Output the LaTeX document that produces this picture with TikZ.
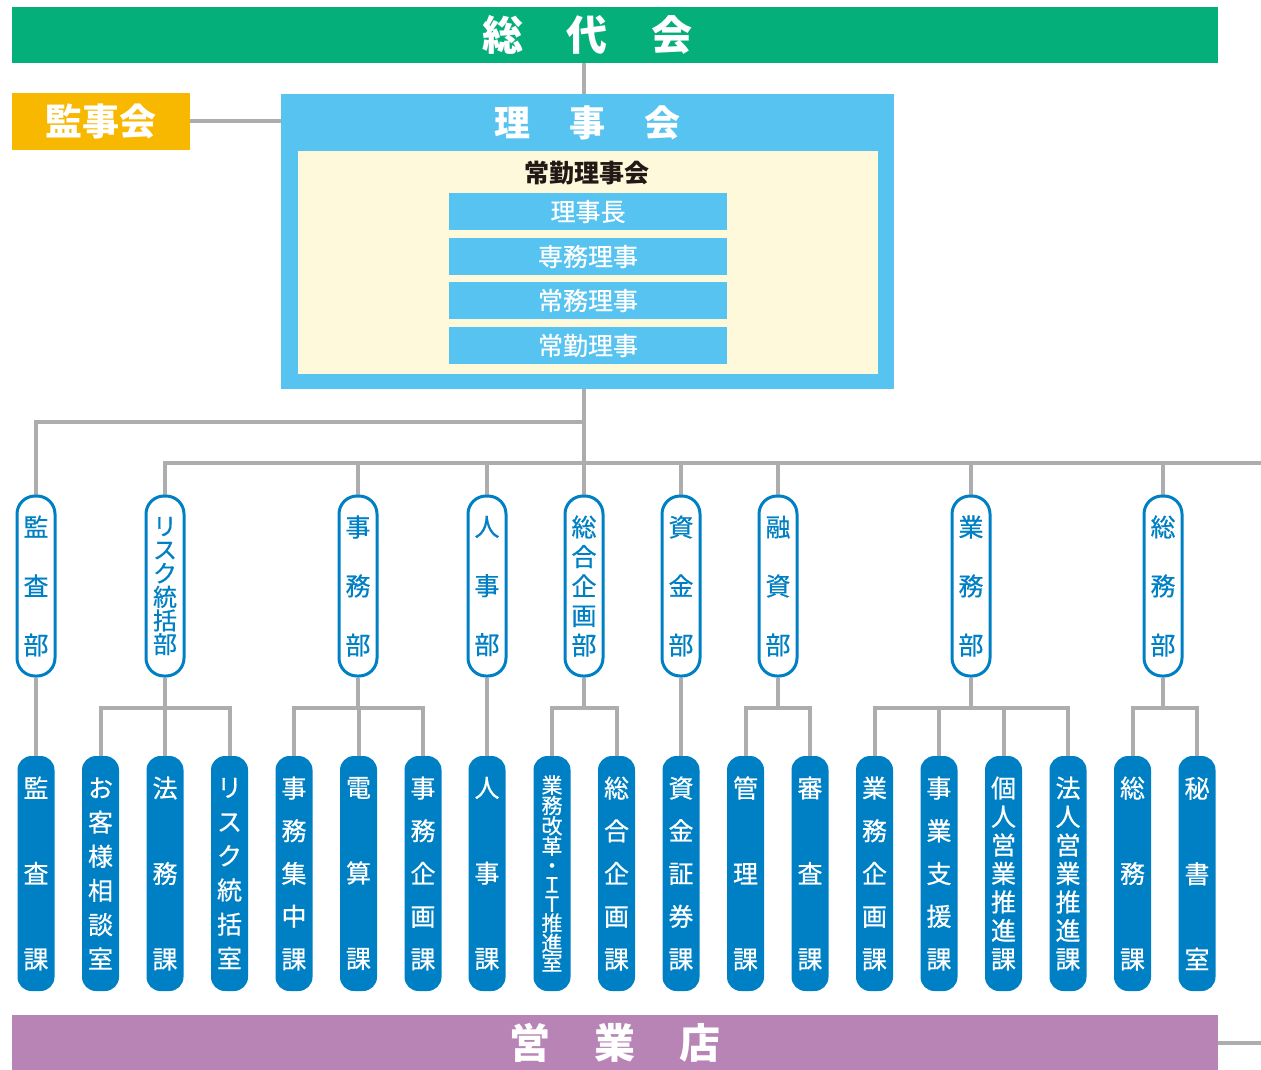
\documentclass[tikz,border=0pt]{standalone}
\usepackage{fontspec}
\newfontfamily\jp{Noto Sans CJK JP}
\newfontfamily\jpm[FakeBold=0.6]{Noto Sans CJK JP}
\usetikzlibrary{backgrounds}
\definecolor{verde}{HTML}{05AF7A}
\definecolor{naranja}{HTML}{F8B800}
\definecolor{celeste}{HTML}{56C3F0}
\definecolor{crema}{HTML}{FEF9DB}
\definecolor{azul}{HTML}{0080C4}
\definecolor{morado}{HTML}{B884B6}
\definecolor{gris}{HTML}{ADADAD}
\definecolor{tinta}{HTML}{231815}
\tikzset{
    conn/.style={draw=gris, line width=4pt},
    barra/.style={minimum width=1206pt, minimum height=56pt, inner sep=0pt},
    titulo/.style={text=white, font={\jp\bfseries\fontsize{#1}{#1}\selectfont}},
    cargo/.style={fill=celeste, minimum width=278pt, minimum height=37pt, inner sep=0pt,
        text=white, font={\jpm\fontsize{25}{25}\selectfont}},
    bu/.style={draw=azul, line width=3pt, fill=white, rounded corners=18pt,
        minimum width=38pt, minimum height=180pt, inner sep=0pt, text=azul,
        align=center, font={\jpm\fontsize{25}{#1}\selectfont}},
    ka/.style={fill=azul, rounded corners=14pt, minimum width=37pt, minimum height=235pt,
        inner sep=0pt, text=white, align=center, font={\jpm\fontsize{25}{#1}\selectfont}},
}
\begin{document}
\begin{tikzpicture}[x=1pt, y=-1pt]
    \useasboundingbox (0,0) rectangle (1261,1070);

    % Barras de arriba y abajo
    \node[barra, fill=verde] (sodai) at (615,35) {};
    \node[titulo=41] (sodaitxt) at (587.5,35) {総\hspace{44pt}代\hspace{44pt}会};
    \node[barra, fill=morado, minimum height=55pt, titulo=41] (eigyo) at (615,1042.5)
        {営\hspace{44pt}業\hspace{44pt}店};

    % Monitoring
    \node[fill=naranja, minimum width=178pt, minimum height=57pt, inner sep=0pt, titulo=37]
        (kanjikai) at (101,121.5) {監事会};

    % Consejo
    \node[fill=celeste, minimum width=613pt, minimum height=295pt, inner sep=0pt] (rijikai) at (587.5,241.5) {};
    \node[titulo=36] (rijikaitxt) at (587.5,123) {理\hspace{39pt}事\hspace{39pt}会};
    \node[fill=crema, minimum width=580pt, minimum height=223pt, inner sep=0pt] (jokin) at (588,262.5) {};
    \node[text=tinta, font={\jp\bfseries\fontsize{25}{25}\selectfont}] (jokintxt) at (587,173) {常勤理事会};
    \node[cargo] (rijicho) at (588,211.5) {理事長};
    \node[cargo] (senmu) at (588,256.5) {専務理事};
    \node[cargo] (jomu) at (588,300.5) {常務理事};
    \node[cargo] (jokinriji) at (588,345.5) {常勤理事};

    % Departamentos
    \node[bu=59] (kansabu) at (36,586) {監\\査\\部};
    \node[bu=23.6, font={\jpm\fontsize{24}{23.6}\selectfont}] (risukubu) at (165,586) {リ\\ス\\ク\\統\\括\\部};
    \node[bu=59] (jimubu) at (358,586) {事\\務\\部};
    \node[bu=59] (jinjibu) at (487,586) {人\\事\\部};
    \node[bu=29.5] (sogobu) at (584,586) {総\\合\\企\\画\\部};
    \node[bu=59] (shikinbu) at (681,586) {資\\金\\部};
    \node[bu=59] (yushibu) at (778,586) {融\\資\\部};
    \node[bu=59] (gyomubu) at (971,586) {業\\務\\部};
    \node[bu=59] (somubu) at (1163,586) {総\\務\\部};

    % Secciones
    \node[ka=85.5] (kansaka) at (36,873.5) {監\\査\\課};
    \node[ka=34.2] (okyaku) at (100.5,873.5) {お\\客\\様\\相\\談\\室};
    \node[ka=85.5] (homu) at (165,873.5) {法\\務\\課};
    \node[ka=34.2] (risukushitsu) at (229.5,873.5) {リ\\ス\\ク\\統\\括\\室};
    \node[ka=42.75] (shuchu) at (294,873.5) {事\\務\\集\\中\\課};
    \node[ka=85.5] (densan) at (358.5,873.5) {電\\算\\課};
    \node[ka=42.75] (jimukikaku) at (423,873.5) {事\\務\\企\\画\\課};
    \node[ka=85.5] (jinjika) at (487,873.5) {人\\事\\課};
    \node[ka=19.2, font={\jpm\fontsize{21}{19.2}\selectfont}] (kaikaku) at (552,873.5)
        {業\\務\\改\\革\\・\\Ｉ\\Ｔ\\推\\進\\室};
    \node[ka=42.75] (sogokikaku) at (616.5,873.5) {総\\合\\企\\画\\課};
    \node[ka=42.75] (shoken) at (681,873.5) {資\\金\\証\\券\\課};
    \node[ka=85.5] (kanri) at (745.5,873.5) {管\\理\\課};
    \node[ka=85.5] (shinsa) at (810,873.5) {審\\査\\課};
    \node[ka=42.75] (gyomukikaku) at (874.5,873.5) {業\\務\\企\\画\\課};
    \node[ka=42.75] (shien) at (939,873.5) {事\\業\\支\\援\\課};
    \node[ka=28.5] (kojin) at (1003.5,873.5) {個\\人\\営\\業\\推\\進\\課};
    \node[ka=28.5] (hojin) at (1068,873.5) {法\\人\\営\\業\\推\\進\\課};
    \node[ka=85.5] (somuka) at (1132.5,873.5) {総\\務\\課};
    \node[ka=85.5] (hisho) at (1197,873.5) {秘\\書\\室};

    % Lineas
    \begin{scope}[on background layer]
        \coordinate (linea1) at (584,422);
        \coordinate (linea2) at (1261,463);
        \coordinate (linea3) at (0,708);
        \draw[conn] (sodai.south -| sogobu.north) -- (rijikai.north -| sogobu.north);
        \draw[conn] (kanjikai.east) -- (kanjikai.east -| rijikai.west);
        \draw[conn] (rijikai.south -| sogobu.north) -- (sogobu.north);
        \draw[conn] (linea1) -| (kansabu.north);
        \draw[conn] (risukubu.north) |- (linea2);
        \foreach \b in {jimubu,jinjibu,shikinbu,yushibu,gyomubu,somubu}
            \draw[conn] (\b.north) -- (\b.north |- linea2);
        \draw[conn] (eigyo.east) -- (eigyo.east -| linea2);
        \foreach \b/\k in {kansabu/kansaka, risukubu/okyaku, risukubu/homu, risukubu/risukushitsu,
                jimubu/shuchu, jimubu/densan, jimubu/jimukikaku, jinjibu/jinjika,
                sogobu/kaikaku, sogobu/sogokikaku, shikinbu/shoken, yushibu/kanri, yushibu/shinsa,
                gyomubu/gyomukikaku, gyomubu/shien, gyomubu/kojin, gyomubu/hojin,
                somubu/somuka, somubu/hisho}
            \draw[conn] (\b.south) |- (\k.north |- linea3) -- (\k.north);
    \end{scope}
\end{tikzpicture}
\end{document}
